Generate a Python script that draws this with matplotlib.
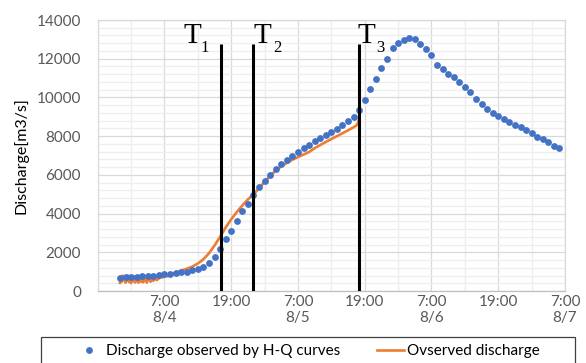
import matplotlib
matplotlib.use("Agg")
import matplotlib.pyplot as plt
from matplotlib.patches import Rectangle
from matplotlib.lines import Line2D
from matplotlib.ticker import MultipleLocator

# time axis: hours since 8/3 19:00
hq_hours = list(range(4, 84))
hq_discharge = [
    650, 700, 720, 740, 760, 780, 800, 830, 860, 900,          # h4-13
    930, 960, 1000, 1060, 1140, 1250, 1450, 1760,              # h14-21
    2170, 2670, 3115, 3632, 4133, 4494, 4975, 5357, 5683, 5977,  # h22-31
    6287, 6545, 6768, 6990, 7196, 7372, 7558, 7734, 7889, 8044,  # h32-41
    8214, 8385, 8560, 8767, 9004, 9350,                          # h42-47
    9867, 10420, 10952, 11505, 11970, 12537, 12830, 12983, 13086, 13003,  # h48-57
    12744, 12502, 12175, 11675, 11470, 11228, 11055, 10797, 10539, 10280,  # h58-67
    9935, 9676, 9384, 9195, 9040, 8886, 8731, 8593, 8457, 8302,            # h68-77
    8147, 7972, 7835, 7680, 7506, 7403,                                    # h78-83
]

obs_hours = [
    4.0, 4.17, 4.33, 4.5, 4.67, 4.83, 5.0, 5.17, 5.33, 5.5, 5.67, 5.83,
    6.0, 6.17, 6.33, 6.5, 6.67, 6.83, 7.0, 7.17, 7.33, 7.5, 7.67, 7.83,
    8.0, 8.17, 8.33, 8.5, 8.67, 8.83, 9.0, 9.17, 9.33, 9.5, 9.67, 9.83,
    10.0, 10.17, 10.33, 10.5, 10.67, 10.83, 11.0, 11.33, 11.67, 12.0, 12.5,
    13, 14, 15, 16, 17, 18, 19, 20, 21,
    22, 23, 24, 25, 26, 27, 28, 29, 30, 31, 32, 33, 34, 35, 36, 37, 38, 39,
    40, 41, 42, 43, 44, 45, 46, 46.5, 46.8, 47,
]
obs_discharge = [
    420, 760, 480, 800, 560, 720, 430, 690, 520, 780, 460, 640,
    410, 700, 560, 760, 440, 650, 500, 770, 430, 610, 720, 480,
    690, 450, 760, 540, 680, 430, 720, 560, 790, 480, 640, 700,
    520, 780, 600, 720, 560, 800, 640, 760, 700, 780, 760,
    830, 950, 1050, 1150, 1260, 1420, 1640, 1950, 2350,
    2800, 3280, 3700, 4080, 4420, 4730, 5000, 5300, 5640, 5950, 6220, 6440, 6620, 6780, 6920, 7050, 7180, 7380,
    7540, 7700, 7850, 8000, 8150, 8300, 8460, 8550, 8700, 8900,
]

t_hours = [22.2, 28, 47]
t_names = ["1", "2", "3"]

xtick_hours = [12, 24, 36, 48, 60, 72, 84]
xtick_labels = ["7:00\n8/4", "19:00", "7:00\n8/5", "19:00", "7:00\n8/6", "19:00", "7:00\n8/7"]

plt.rcParams['font.family'] = ['Lato', 'DejaVu Sans']

fig = plt.figure(figsize=(5.86, 3.63), dpi=100)
ax = fig.add_axes([0.1667, 0.1983, 0.7975, 0.7466])

ax.set_xlim(0, 84)
ax.set_ylim(0, 14000)

# grid
ax.yaxis.set_major_locator(MultipleLocator(2000))
ax.yaxis.set_minor_locator(MultipleLocator(400))
ax.xaxis.set_minor_locator(MultipleLocator(6))
ax.set_xticks(xtick_hours)
ax.set_xticklabels(xtick_labels)
ax.grid(which='major', color='#d9d9d9', lw=0.9)
ax.grid(which='minor', color='#eeeeee', lw=0.9)
ax.set_axisbelow(True)
ax.tick_params(which='both', length=0)
ax.tick_params(axis='y', pad=12, labelsize=11, labelcolor='#595959')
ax.tick_params(axis='x', pad=3, labelsize=11, labelcolor='#595959')
for s in ['top', 'right', 'left']:
    ax.spines[s].set_color('#d9d9d9')
    ax.spines[s].set_linewidth(0.9)
ax.spines['bottom'].set_color('#bfbfbf')
ax.spines['bottom'].set_linewidth(0.9)

ax.set_ylabel("Discharge[m3/s]", fontsize=11.5, color='black', labelpad=6)

ax.plot(obs_hours, obs_discharge, color='#ED7D31', lw=1.9, zorder=3)
ax.plot(hq_hours, hq_discharge, 'o', color='#4472C4', ms=4.9, mec='none', zorder=4)

# T lines and labels
line_top = 12750
t_offsets = [(-38, -21), (0, 20), (-1.6, 17.4)]
for t, name, (dx_t, dx_s) in zip(t_hours, t_names, t_offsets):
    ax.vlines(t, 0, line_top, color='black', lw=2.2, zorder=5)
    ax.annotate("T", xy=(t, line_top), xytext=(dx_t, 1), textcoords='offset pixels',
                ha='left', va='baseline', fontsize=21, family='Liberation Serif',
                color='black', annotation_clip=False)
    ax.annotate(name, xy=(t, line_top), xytext=(dx_s, -8), textcoords='offset pixels',
                ha='left', va='baseline', fontsize=12, family='Liberation Serif',
                color='black', annotation_clip=False)

# legend
rect = Rectangle((41 / 586, -0.1), (575 - 41) / 586, 0.1 + (363 - 337) / 363,
                 transform=fig.transFigure, fill=False, edgecolor='#404040', lw=0.9,
                 clip_on=False)
fig.patches.append(rect)
handles = [
    Line2D([], [], marker='o', ls='none', color='#4472C4', ms=4.9, mec='none'),
    Line2D([], [], color='#ED7D31', lw=1.9),
]
fig.legend(handles, ["Discharge observed by H-Q curves", "Ovserved discharge"],
           loc='center', bbox_to_anchor=(0.525, 0.032), ncol=2, frameon=False,
           fontsize=11, handlelength=1.8, handletextpad=0.2, columnspacing=2.4)

fig.savefig("out.png", dpi=100)
